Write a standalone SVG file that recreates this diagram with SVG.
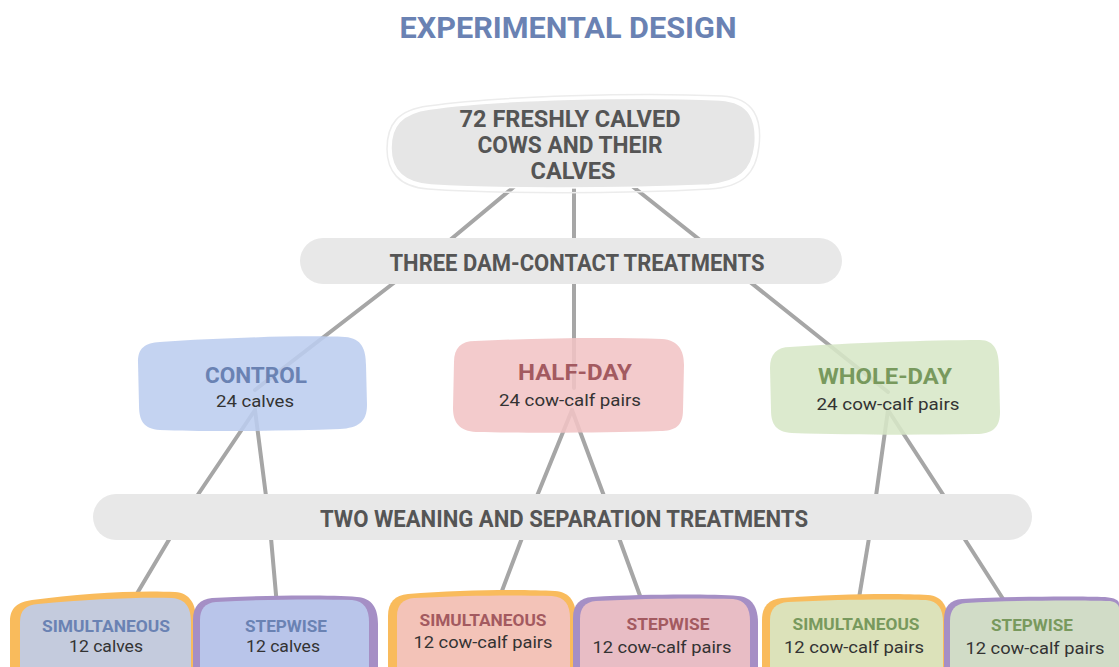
<svg xmlns="http://www.w3.org/2000/svg" width="1119" height="667" viewBox="0 0 1119 667">
  <style>
    .title { font-family: Roboto, "Liberation Sans", sans-serif; font-weight: 700; font-size: 30px; fill: #6a82b3; }
    .head { font-family: Roboto, "Liberation Sans", sans-serif; font-weight: 700; fill: #555555; }
    .lbl { font-family: Roboto, "Liberation Sans", sans-serif; font-weight: 700; }
    .sub { font-family: Roboto, "Liberation Sans", sans-serif; font-weight: 400; fill: #333333; }
    .link { stroke: #a6a6a6; stroke-width: 4; stroke-linecap: round; fill: none; }
    .pill { fill: #e8e8e8; }
    .box { fill-opacity: 0.88; }
    .blue { fill: #bccdef; }
    .pink { fill: #f1c4c5; }
    .green { fill: #d7e7c7; }
    .orange { fill: #f9bb5c; }
    .purple { fill: #a58fc5; }
    .tblue { fill: #6a82b3; }
    .tpink { fill: #a35a60; }
    .tgreen { fill: #78995d; }
  </style>

  <text class="title" x="568" y="38" text-anchor="middle" textLength="337" lengthAdjust="spacingAndGlyphs">EXPERIMENTAL DESIGN</text>

  <!-- connectors drawn first so nodes sit on top -->
  <g id="connectors">
    <line class="link" x1="515" y1="186" x2="450" y2="240"/>
    <line class="link" x1="574" y1="188" x2="574" y2="240"/>
    <line class="link" x1="632" y1="186" x2="700" y2="240"/>

    <line class="link" x1="395" y1="282" x2="255" y2="390"/>
    <line class="link" x1="574" y1="282" x2="574" y2="388"/>
    <line class="link" x1="750" y1="282" x2="888" y2="392"/>

    <line class="link" x1="255" y1="410" x2="197" y2="496"/>
    <line class="link" x1="255" y1="410" x2="266" y2="496"/>
    <line class="link" x1="572" y1="410" x2="537" y2="496"/>
    <line class="link" x1="572" y1="410" x2="604" y2="496"/>
    <line class="link" x1="888" y1="410" x2="876" y2="496"/>
    <line class="link" x1="888" y1="410" x2="944" y2="496"/>

    <line class="link" x1="170" y1="538" x2="126" y2="612"/>
    <line class="link" x1="271" y1="538" x2="277" y2="606"/>
    <line class="link" x1="522" y1="538" x2="497" y2="604"/>
    <line class="link" x1="619" y1="538" x2="643" y2="604"/>
    <line class="link" x1="869" y1="538" x2="858" y2="604"/>
    <line class="link" x1="964" y1="538" x2="1005" y2="602"/>
  </g>

  <g id="root">
    <path d="M 428 106 C 500 96, 640 92, 722 96 C 755 98, 762 120, 759 146 C 756 174, 742 187, 710 189 C 620 194, 500 194, 428 189 C 398 187, 387 170, 387 149 C 387 124, 398 110, 428 106 Z" fill="none" stroke="#ececec" stroke-width="1.5"/>
    <path d="M 430 109 C 500 99, 640 96, 720 100 C 751 102, 757 121, 755 145 C 752 171, 739 182, 709 185 C 620 189, 500 189, 431 185 C 402 183, 391 168, 391 148 C 391 126, 401 113, 430 109 Z" fill="#e6e6e6" stroke="#ffffff" stroke-width="1.5"/>
    <text class="head" font-size="24" text-anchor="middle">
      <tspan x="573" y="127" textLength="221" lengthAdjust="spacingAndGlyphs">72 FRESHLY CALVED</tspan>
      <tspan x="573" y="153" textLength="185" lengthAdjust="spacingAndGlyphs">COWS AND THEIR</tspan>
      <tspan x="573" y="179" textLength="85" lengthAdjust="spacingAndGlyphs">CALVES</tspan>
    </text>
  </g>

  <g id="dam-contact">
    <rect class="pill" x="300" y="238" width="542" height="46" rx="23"/>
    <text class="head" font-size="24" x="577" y="271" text-anchor="middle" textLength="375" lengthAdjust="spacingAndGlyphs">THREE DAM-CONTACT TREATMENTS</text>
  </g>

  <g id="control">
    <path class="box blue" d="M 160 342 C 220 338, 300 335, 345 337 C 362 338, 366 350, 366 365 L 367 405 C 367 422, 358 428, 340 429 C 280 431, 210 432, 160 430 C 143 429, 139 420, 139 405 L 138 362 C 138 348, 145 343, 160 342 Z"/>
    <text class="lbl tblue" font-size="22" x="256" y="383" text-anchor="middle" textLength="102" lengthAdjust="spacingAndGlyphs">CONTROL</text>
    <text class="sub" font-size="17" x="255" y="407" text-anchor="middle" textLength="78" lengthAdjust="spacingAndGlyphs">24 calves</text>
  </g>

  <g id="half-day">
    <path class="box pink" d="M 475 341 C 540 338, 610 337, 662 339 C 678 340, 684 350, 684 365 L 683 410 C 683 426, 675 431, 660 431 C 600 433, 530 433, 476 432 C 460 431, 453 423, 453 408 L 454 362 C 454 348, 461 341, 475 341 Z"/>
    <text class="lbl tpink" font-size="22" x="575" y="380" text-anchor="middle" textLength="114" lengthAdjust="spacingAndGlyphs">HALF-DAY</text>
    <text class="sub" font-size="17" x="570" y="406" text-anchor="middle" textLength="142" lengthAdjust="spacingAndGlyphs">24 cow-calf pairs</text>
  </g>

  <g id="whole-day">
    <path class="box green" d="M 790 347 C 850 343, 930 340, 980 340 C 995 340, 999 352, 999 368 L 1000 412 C 1000 428, 992 434, 976 434 C 920 435, 850 435, 792 433 C 776 432, 771 424, 771 410 L 770 368 C 770 354, 777 347, 790 347 Z"/>
    <text class="lbl tgreen" font-size="22" x="885" y="384" text-anchor="middle" textLength="134" lengthAdjust="spacingAndGlyphs">WHOLE-DAY</text>
    <text class="sub" font-size="17" x="888" y="410" text-anchor="middle" textLength="143" lengthAdjust="spacingAndGlyphs">24 cow-calf pairs</text>
  </g>

  <g id="weaning">
    <rect class="pill" x="93" y="494" width="939" height="46" rx="23"/>
    <text class="head" font-size="24" x="564" y="527" text-anchor="middle" textLength="488" lengthAdjust="spacingAndGlyphs">TWO WEANING AND SEPARATION TREATMENTS</text>
  </g>

  <g id="control-simultaneous">
    <path class="orange" d="M 32 600 C 80 593, 140 590, 175 592 C 190 593, 196 604, 196 620 L 196 690 L 10 690 L 10 622 C 10 607, 18 602, 32 600 Z"/>
    <path class="box blue" d="M 38 604 C 90 599, 140 597, 172 598 C 186 599, 191 608, 191 622 L 191 690 L 20 690 L 20 622 C 20 610, 26 605, 38 604 Z"/>
    <text class="lbl tblue" font-size="16" x="106" y="632" text-anchor="middle" textLength="128" lengthAdjust="spacingAndGlyphs">SIMULTANEOUS</text>
    <text class="sub" font-size="17" x="106" y="652" text-anchor="middle" textLength="74" lengthAdjust="spacingAndGlyphs">12 calves</text>
  </g>

  <g id="control-stepwise">
    <path class="purple" d="M 212 598 C 270 595, 330 595, 357 597 C 372 598, 378 608, 378 624 L 378 690 L 193 690 L 193 620 C 193 606, 200 599, 212 598 Z"/>
    <path class="box blue" d="M 216 602 C 270 599, 320 599, 352 600 C 364 601, 369 609, 369 622 L 369 690 L 200 690 L 200 620 C 200 609, 205 603, 216 602 Z"/>
    <text class="lbl tblue" font-size="16" x="286" y="632" text-anchor="middle" textLength="82" lengthAdjust="spacingAndGlyphs">STEPWISE</text>
    <text class="sub" font-size="17" x="283" y="652" text-anchor="middle" textLength="74" lengthAdjust="spacingAndGlyphs">12 calves</text>
  </g>

  <g id="half-simultaneous">
    <path class="orange" d="M 408 594 C 460 590, 520 589, 555 591 C 570 592, 576 602, 576 618 L 576 690 L 388 690 L 388 616 C 388 602, 395 595, 408 594 Z"/>
    <path class="box pink" d="M 414 598 C 470 595, 520 595, 552 596 C 565 597, 570 605, 570 618 L 570 690 L 397 690 L 397 616 C 397 605, 403 599, 414 598 Z"/>
    <text class="lbl tpink" font-size="16" x="483" y="626" text-anchor="middle" textLength="127" lengthAdjust="spacingAndGlyphs">SIMULTANEOUS</text>
    <text class="sub" font-size="17" x="483" y="648" text-anchor="middle" textLength="139" lengthAdjust="spacingAndGlyphs">12 cow-calf pairs</text>
  </g>

  <g id="half-stepwise">
    <path class="purple" d="M 592 597 C 650 594, 710 594, 738 596 C 752 597, 758 607, 758 623 L 758 690 L 573 690 L 573 618 C 573 604, 580 598, 592 597 Z"/>
    <path class="box pink" d="M 596 601 C 650 598, 700 598, 733 599 C 745 600, 750 608, 750 621 L 750 690 L 580 690 L 580 619 C 580 608, 585 602, 596 601 Z"/>
    <text class="lbl tpink" font-size="16" x="668" y="630" text-anchor="middle" textLength="83" lengthAdjust="spacingAndGlyphs">STEPWISE</text>
    <text class="sub" font-size="17" x="662" y="653" text-anchor="middle" textLength="139" lengthAdjust="spacingAndGlyphs">12 cow-calf pairs</text>
  </g>

  <g id="whole-simultaneous">
    <path class="orange" d="M 782 598 C 835 594, 895 593, 928 595 C 942 596, 948 606, 948 622 L 948 690 L 762 690 L 762 620 C 762 606, 769 599, 782 598 Z"/>
    <path class="box green" d="M 788 602 C 840 599, 895 599, 926 600 C 938 601, 943 609, 943 622 L 943 690 L 770 690 L 770 620 C 770 609, 776 603, 788 602 Z"/>
    <text class="lbl tgreen" font-size="16" x="856" y="630" text-anchor="middle" textLength="127" lengthAdjust="spacingAndGlyphs">SIMULTANEOUS</text>
    <text class="sub" font-size="17" x="854" y="653" text-anchor="middle" textLength="140" lengthAdjust="spacingAndGlyphs">12 cow-calf pairs</text>
  </g>

  <g id="whole-stepwise">
    <path class="purple" d="M 962 599 C 1020 596, 1080 596, 1105 597 C 1115 598, 1119 600, 1119 604 L 1119 690 L 944 690 L 944 620 C 944 606, 950 600, 962 599 Z"/>
    <path class="box green" d="M 966 603 C 1020 600, 1080 600, 1110 601 C 1116 602, 1119 605, 1119 608 L 1119 690 L 950 690 L 950 621 C 950 610, 955 604, 966 603 Z"/>
    <text class="lbl tgreen" font-size="16" x="1032" y="631" text-anchor="middle" textLength="82" lengthAdjust="spacingAndGlyphs">STEPWISE</text>
    <text class="sub" font-size="17" x="1035" y="654" text-anchor="middle" textLength="139" lengthAdjust="spacingAndGlyphs">12 cow-calf pairs</text>
  </g>
</svg>
